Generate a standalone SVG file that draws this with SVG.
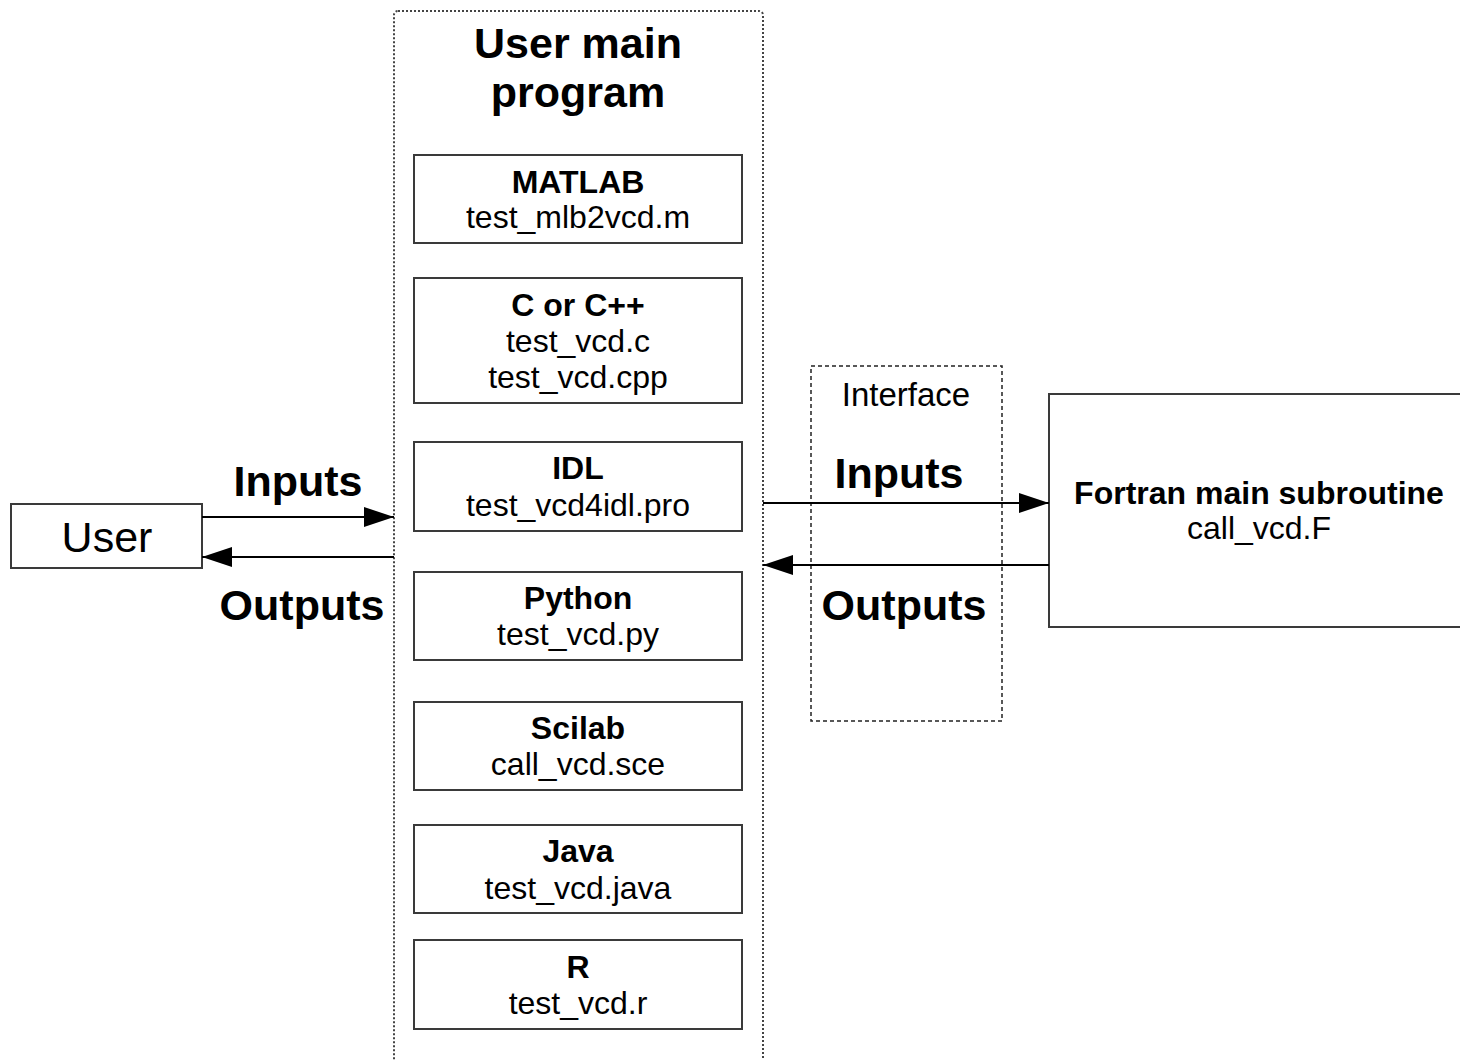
<svg xmlns="http://www.w3.org/2000/svg" width="1460" height="1060" viewBox="0 0 1460 1060">
<defs>
<marker id="arr" viewBox="0 0 30 20" refX="30" refY="10" markerWidth="30" markerHeight="20" markerUnits="userSpaceOnUse" orient="auto">
<path d="M0,0 L30,10 L0,20 Z" fill="#000"/>
</marker>
<style>
text{font-family:"Liberation Sans",Arial,sans-serif;fill:#000;text-anchor:middle}
.b{font-weight:bold}
.s32{font-size:32px}
.s33{font-size:33px}
.s43{font-size:43px}
.box{fill:#fff;stroke:#3a3a3a;stroke-width:2}
.conn{stroke:#000;stroke-width:2;fill:none}
</style>
</defs>
<rect width="1460" height="1060" fill="#fff"/>

<g id="main-program">
<rect x="394" y="11" width="369" height="1070" rx="4" fill="none" stroke="#444" stroke-width="2" stroke-dasharray="2,2"/>
<text class="b s43" x="578" y="58">User main</text>
<text class="b s43" x="578" y="107">program</text>
</g>

<g id="matlab">
<rect class="box" x="414" y="155" width="328" height="88"/>
<text class="b s32" x="578" y="193">MATLAB</text>
<text class="s32" x="578" y="228">test_mlb2vcd.m</text>
</g>
<g id="cpp">
<rect class="box" x="414" y="278" width="328" height="125"/>
<text class="b s32" x="578" y="316">C or C++</text>
<text class="s32" x="578" y="352">test_vcd.c</text>
<text class="s32" x="578" y="388">test_vcd.cpp</text>
</g>
<g id="idl">
<rect class="box" x="414" y="442" width="328" height="89"/>
<text class="b s32" x="578" y="479">IDL</text>
<text class="s32" x="578" y="516">test_vcd4idl.pro</text>
</g>
<g id="python">
<rect class="box" x="414" y="572" width="328" height="88"/>
<text class="b s32" x="578" y="609">Python</text>
<text class="s32" x="578" y="645">test_vcd.py</text>
</g>
<g id="scilab">
<rect class="box" x="414" y="702" width="328" height="88"/>
<text class="b s32" x="578" y="739">Scilab</text>
<text class="s32" x="578" y="775">call_vcd.sce</text>
</g>
<g id="java">
<rect class="box" x="414" y="825" width="328" height="88"/>
<text class="b s32" x="578" y="862">Java</text>
<text class="s32" x="578" y="899">test_vcd.java</text>
</g>
<g id="r">
<rect class="box" x="414" y="940" width="328" height="89"/>
<text class="b s32" x="578" y="978">R</text>
<text class="s32" x="578" y="1014">test_vcd.r</text>
</g>

<g id="user">
<rect class="box" x="11" y="504" width="191" height="64"/>
<text class="s43" x="107" y="552">User</text>
</g>

<g id="interface">
<rect x="811" y="366" width="191" height="355" fill="none" stroke="#222" stroke-width="1.5" stroke-dasharray="4,3"/>
<text class="s33" x="906" y="406">Interface</text>
</g>

<g id="fortran">
<rect class="box" x="1049" y="394" width="420" height="233"/>
<text class="b s32" x="1259" y="504">Fortran main subroutine</text>
<text class="s32" x="1259" y="539">call_vcd.F</text>
</g>

<g id="connectors">
<line class="conn" x1="202" y1="517" x2="394" y2="517" marker-end="url(#arr)"/>
<line class="conn" x1="394" y1="557" x2="202" y2="557" marker-end="url(#arr)"/>
<line class="conn" x1="763" y1="503" x2="1049" y2="503" marker-end="url(#arr)"/>
<line class="conn" x1="1049" y1="565" x2="763" y2="565" marker-end="url(#arr)"/>
<text class="b s43" x="298" y="496">Inputs</text>
<text class="b s43" x="302" y="620">Outputs</text>
<text class="b s43" x="899" y="488">Inputs</text>
<text class="b s43" x="904" y="620">Outputs</text>
</g>
</svg>
